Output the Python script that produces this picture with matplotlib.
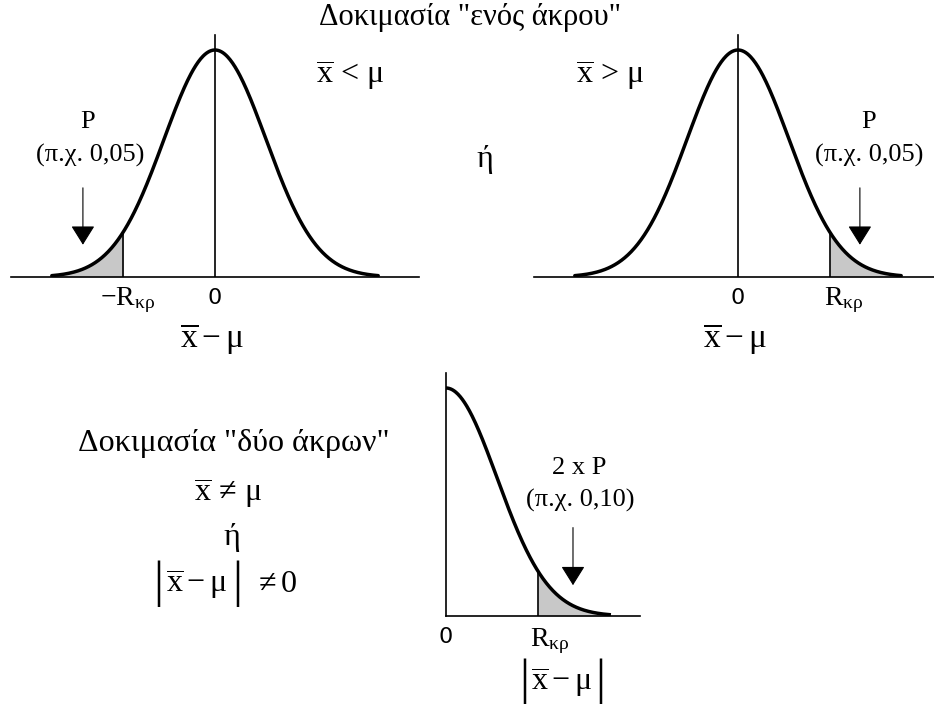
import numpy as np
import matplotlib
matplotlib.use("Agg")
import matplotlib.pyplot as plt

plt.rcParams['font.family'] = ['Liberation Serif', 'DejaVu Serif']
plt.rcParams['mathtext.fontset'] = 'custom'
plt.rcParams['mathtext.rm'] = 'Liberation Serif'
plt.rcParams['mathtext.it'] = 'Liberation Serif:italic'
plt.rcParams['mathtext.bf'] = 'Liberation Serif:bold'

W, H = 934, 704

# curve parameters (in standard deviations)
z_end = 3.2        # where the drawn curve stops
z_crit = 1.8       # critical value R_kp
arrow_z = [-2.59, 2.39, 2.49]
arrow_top = 0.405
arrow_tip = 0.13

shade = '#c8c8c8'
XBAR_MU = r'$\overline{\mathrm{x}}-\mathrm{μ}$'


def fpos(x, y):
    return x / W, 1 - y / H


def make_axes(cx, base, sx, sy, x0, x1, y1):
    ax = fig.add_axes([(cx + x0 * sx) / W, (H - base) / H,
                       (x1 - x0) * sx / W, y1 * sy / H])
    ax.set_xlim(x0, x1)
    ax.set_ylim(0, y1)
    ax.axis('off')
    return ax


def pdf(z):
    return np.exp(-z ** 2 / 2)


def abs_label(xl, xr, y, xc, size_bar=36, size=23):
    fig.text(*fpos(xl, y), '|', ha='center', va='center', fontsize=size_bar)
    fig.text(*fpos(xr, y), '|', ha='center', va='center', fontsize=size_bar)
    fig.text(*fpos(xc, y), XBAR_MU, ha='center', va='center', fontsize=size)


def arrow(ax, z, top, tip):
    ax.annotate('', xy=(z, tip), xytext=(z, top),
                arrowprops=dict(arrowstyle='-|>,head_length=12,head_width=7.5',
                                mutation_scale=1, color='black', lw=0.8))


fig = plt.figure(figsize=(W / 100, H / 100), dpi=100)

# ---- one tail, left and right ----
ax1 = make_axes(215, 277, 51, 227, -4, 4, 1.1)
ax2 = make_axes(738, 277, 51, 227, -4, 4, 1.1)
for ax, side, az in [(ax1, -1, arrow_z[0]), (ax2, 1, arrow_z[1])]:
    z = np.linspace(-z_end, z_end, 400)
    ax.axhline(0, color='black', lw=1.2, clip_on=False)
    ax.plot([0, 0], [0, 1.065], color='black', lw=1.2)
    zt = np.linspace(z_crit, z_end, 100) * side
    ax.fill_between(zt, 0, pdf(zt), color=shade, lw=0)
    ax.plot(z, pdf(z), color='black', lw=2.5, solid_capstyle='round')
    ax.plot([side * z_crit] * 2, [0, pdf(z_crit)], color='black', lw=1.2)
    arrow(ax, az, arrow_top, arrow_tip)
    ax.annotate('0', xy=(0, 0), xytext=(0, -21), textcoords='offset pixels',
                ha='center', va='center', fontsize=16, family='DejaVu Sans')
    if side > 0:
        lab, off = r'$\mathrm{R}_{\mathrm{κρ}}$', 14
    else:
        lab, off = r'$-\mathrm{R}_{\mathrm{κρ}}$', 4
    ax.annotate(lab, xy=(side * z_crit, 0), xytext=(off, -23),
                textcoords='offset pixels', ha='center', va='center', fontsize=20)
    ax.annotate(XBAR_MU, xy=(0, 0), xytext=(-3, -62),
                textcoords='offset pixels', ha='center', va='center', fontsize=24)

# ---- two tails (half-normal) ----
ax3 = make_axes(446, 616, 51, 228, 0, 3.8, 1.07)
zh = np.linspace(0, z_end, 300)
ax3.axhline(0, color='black', lw=1.2, clip_on=False)
ax3.plot([0, 0], [0, 1.066], color='black', lw=1.2, clip_on=False)
zt = np.linspace(z_crit, z_end, 100)
ax3.fill_between(zt, 0, pdf(zt), color=shade, lw=0)
ax3.plot(zh, pdf(zh), color='black', lw=2.5)
ax3.plot([z_crit] * 2, [0, pdf(z_crit)], color='black', lw=1.2)
arrow(ax3, arrow_z[2], 0.40, 0.123)
ax3.annotate('0', xy=(0, 0), xytext=(0, -21), textcoords='offset pixels',
             ha='center', va='center', fontsize=16, family='DejaVu Sans')
ax3.annotate(r'$\mathrm{R}_{\mathrm{κρ}}$', xy=(z_crit, 0), xytext=(12, -25),
             textcoords='offset pixels', ha='center', va='center', fontsize=20)
abs_label(524, 600, 682, 562)

# ---- texts ----
fig.text(*fpos(470, 18), 'Δοκιμασία "ενός άκρου"', ha='center', va='center', fontsize=22)
fig.text(*fpos(350, 75), r'$\overline{\mathrm{x}}\,<\,\mathrm{μ}$', ha='center', va='center', fontsize=23)
fig.text(*fpos(610, 75), r'$\overline{\mathrm{x}}\,>\,\mathrm{μ}$', ha='center', va='center', fontsize=23)
fig.text(*fpos(485, 160), 'ή', ha='center', va='center', fontsize=23)

fig.text(*fpos(88, 122), 'P', ha='center', va='center', fontsize=19)
fig.text(*fpos(90, 155), '(π.χ. 0,05)', ha='center', va='center', fontsize=19)
fig.text(*fpos(869, 122), 'P', ha='center', va='center', fontsize=19)
fig.text(*fpos(869, 155), '(π.χ. 0,05)', ha='center', va='center', fontsize=19)
fig.text(*fpos(579, 468), '2 x P', ha='center', va='center', fontsize=19)
fig.text(*fpos(580, 500), '(π.χ. 0,10)', ha='center', va='center', fontsize=19)

fig.text(*fpos(234, 443), 'Δοκιμασία "δύο άκρων"', ha='center', va='center', fontsize=23)
fig.text(*fpos(228, 493), r'$\overline{\mathrm{x}}\,\neq\,\mathrm{μ}$', ha='center', va='center', fontsize=23)
fig.text(*fpos(232, 537), 'ή', ha='center', va='center', fontsize=23)
abs_label(158, 237, 584, 197)
fig.text(*fpos(276, 584), r'$\neq 0$', ha='center', va='center', fontsize=23)

fig.savefig('out.png', dpi=100)
